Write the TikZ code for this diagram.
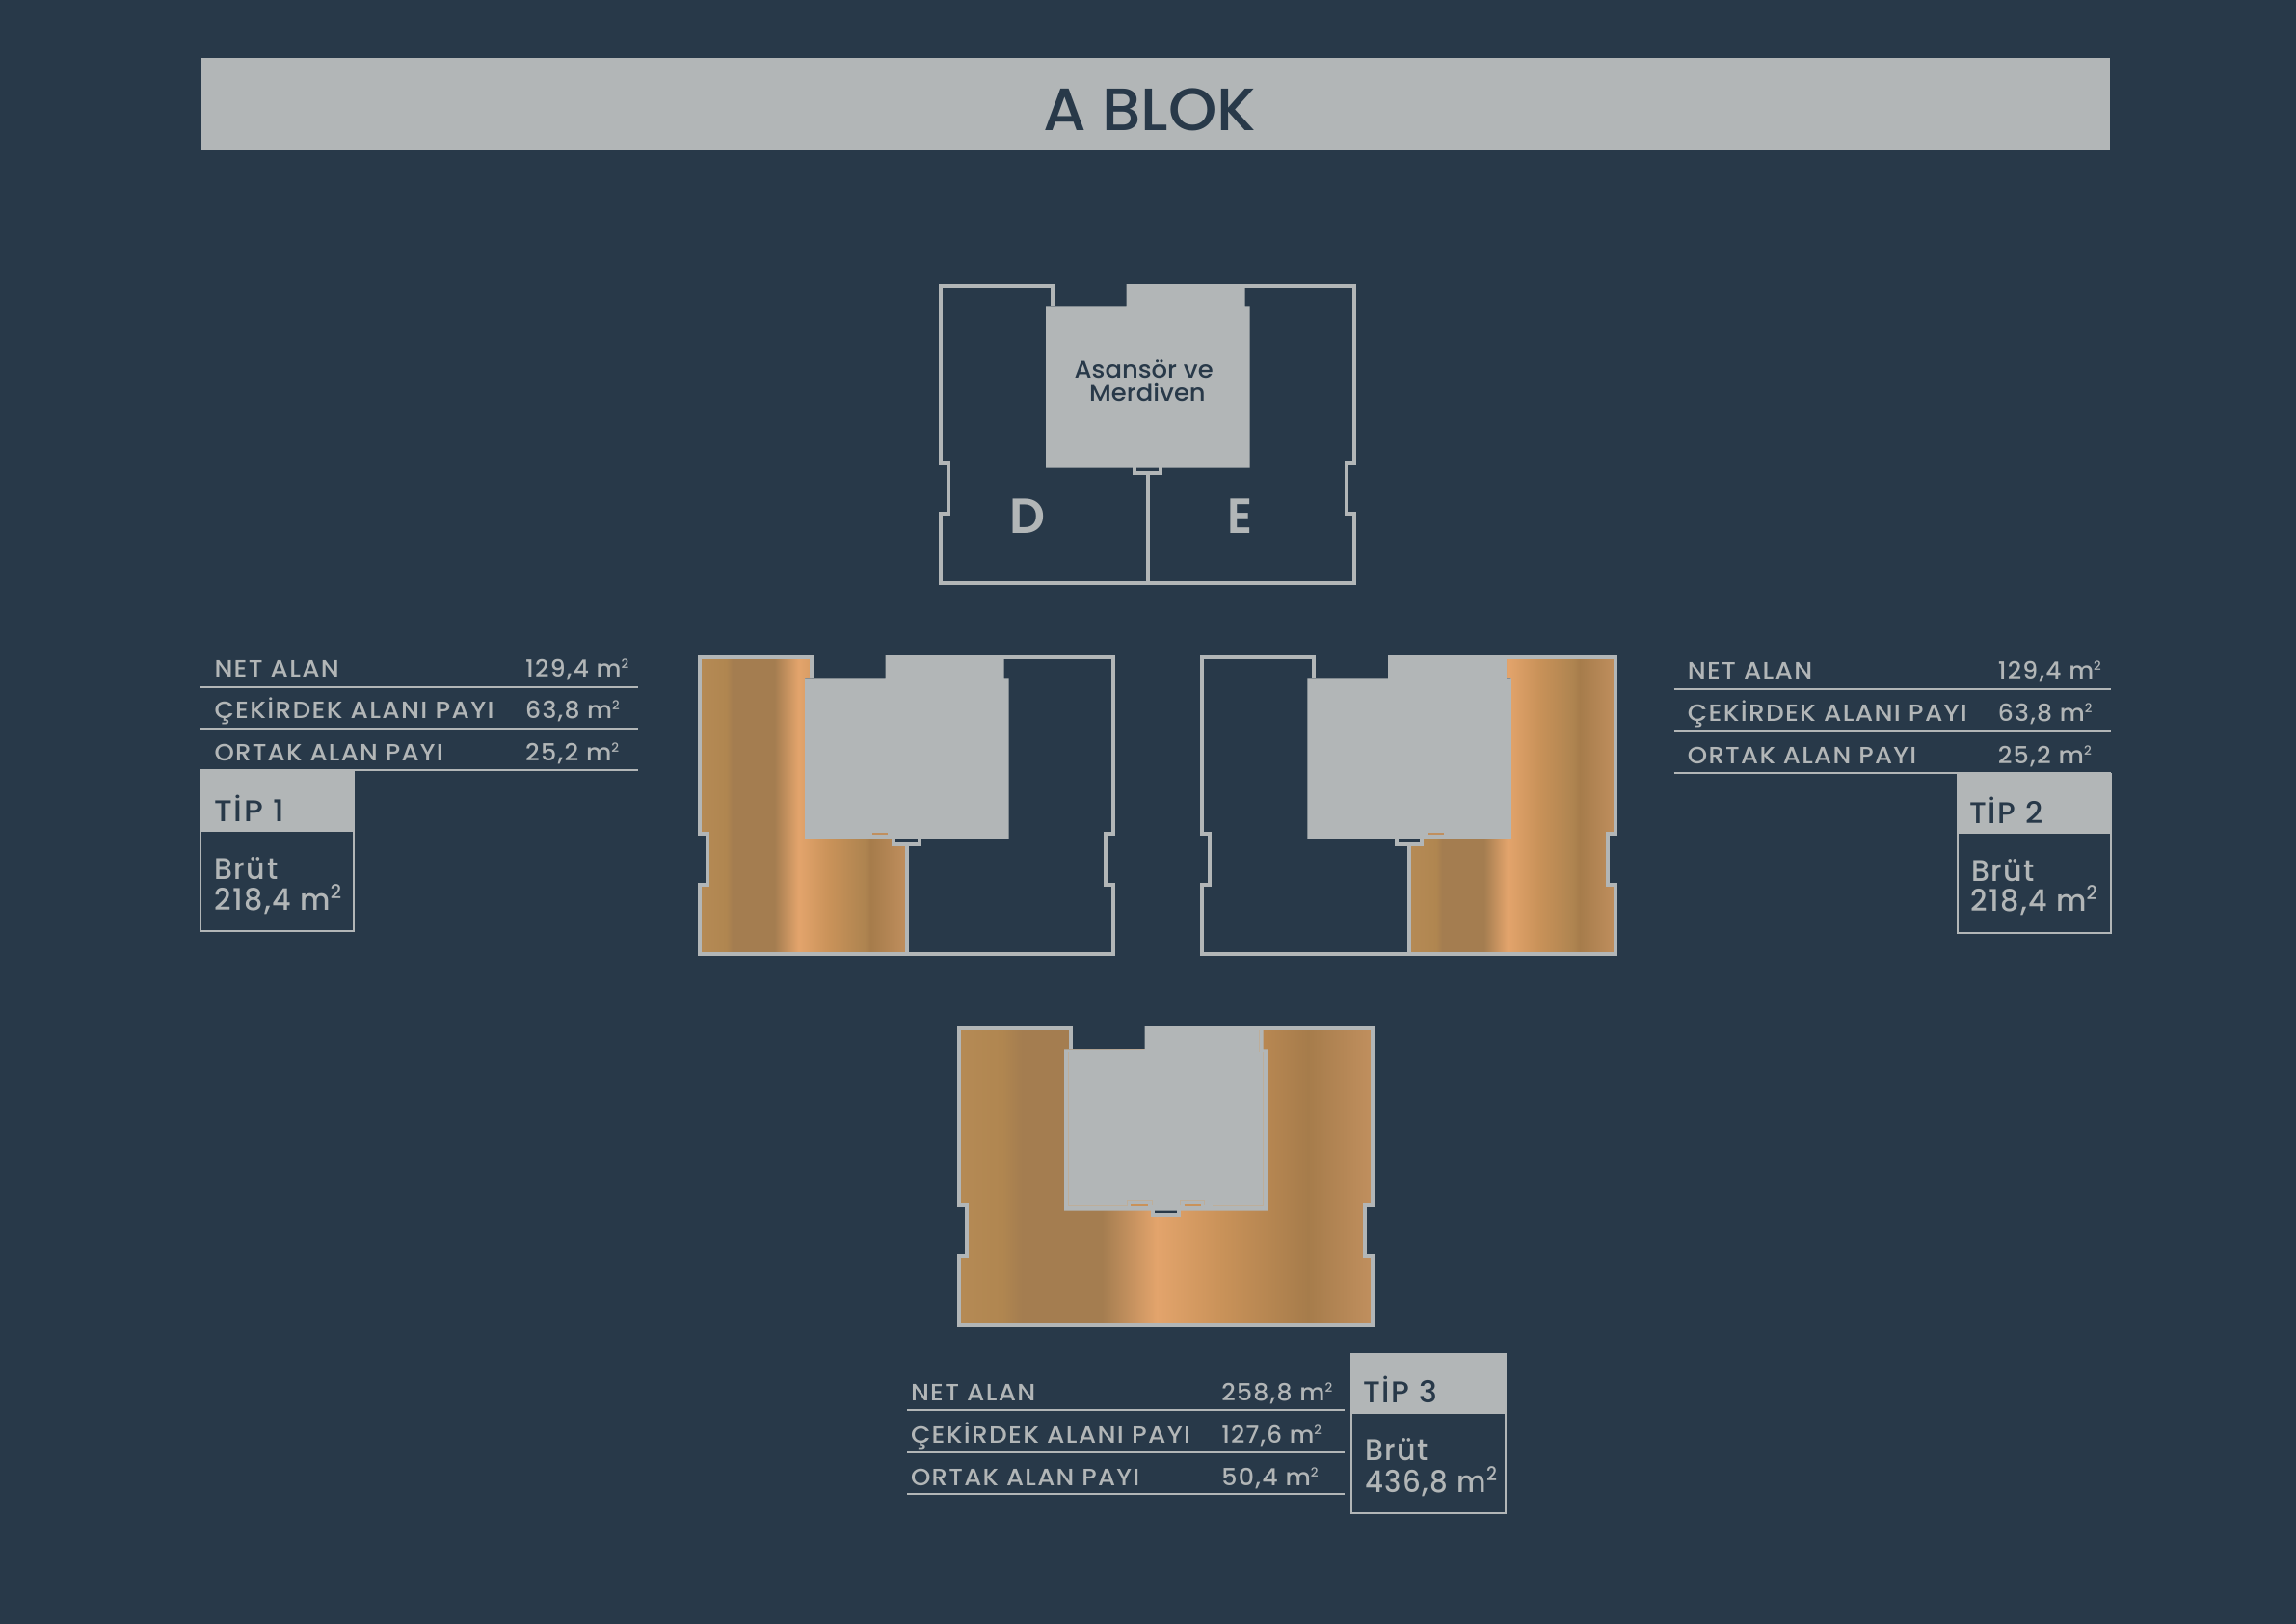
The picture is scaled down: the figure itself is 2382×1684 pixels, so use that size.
\documentclass[tikz,border=0pt]{standalone}
\usepackage{fontspec}
\usepackage{graphicx}
\setmainfont{Poppins}
\newfontfamily\spaced[LetterSpace=5]{Poppins Medium}
\newfontfamily\medfont{Poppins Medium}
\newfontfamily\heavyfont{Poppins SemiBold}
\definecolor{bgdark}{HTML}{283949}
\definecolor{pale}{HTML}{B2B6B7}
\definecolor{gA}{HTML}{B58A55}
\definecolor{gB}{HTML}{B08650}
\definecolor{gC}{HTML}{A47D50}
\definecolor{gD}{HTML}{E3A46C}
\definecolor{gE}{HTML}{C99259}
\definecolor{gF}{HTML}{AE8450}
\definecolor{gG}{HTML}{A67C4B}
\definecolor{gH}{HTML}{C08F5E}
\definecolor{thin}{HTML}{BDAE9A}
\pgfdeclarehorizontalshading{gradone}{100bp}{color(0bp)=(gA); color(25.5bp)=(gA); color(31.4bp)=(gB); color(32.9bp)=(gC); color(43bp)=(gC); color(48.8bp)=(gD); color(56.2bp)=(gE); color(64.7bp)=(gF); color(66.2bp)=(gG); color(75bp)=(gH); color(100bp)=(gH)}
\pgfdeclarehorizontalshading{gradtwo}{100bp}{color(0bp)=(gA); color(25.2bp)=(gA); color(30.2bp)=(gB); color(32.6bp)=(gC); color(42.3bp)=(gC); color(48.9bp)=(gD); color(56.7bp)=(gE); color(67.2bp)=(gG); color(74.8bp)=(gH); color(100bp)=(gH)}
% name, x, y, width, font size, colour, font switch, text
\newcommand{\fitlabel}[8]{\node[anchor=base west,inner sep=0pt,text=#6] (#1) at (#2,#3) {\resizebox{#4pt}{\height}{\fontsize{#5}{#5}#7\selectfont #8}};}
\newcommand{\rowtext}[5]{\fitlabel{#1}{#2}{#3}{#4}{24.5}{pale}{\spaced}{#5}}
\newcommand{\smallsq}{m\raisebox{9pt}{\fontsize{13}{13}\selectfont 2}}
\newcommand{\bigsq}{m\raisebox{12pt}{\fontsize{20}{20}\selectfont 2}}
\newcommand{\outlinepath}{(1092,318) -- (1092,297) -- (976,297) -- (976,480) -- (984,480) -- (984,533) -- (976,533) -- (976,605) -- (1405,605) -- (1405,533) -- (1397,533) -- (1397,480) -- (1405,480) -- (1405,297) -- (1291,297)}
\newcommand{\plancore}{%
  \draw[wall,fill=bgdark] (1177.3,484) -- (1177.3,491) -- (1204,491) -- (1204,484);
  \fill[pale] (1085,318.3) -- (1168.7,318.3) -- (1168.7,295) -- (1291.5,295) -- (1291.5,318.3) -- (1296.5,318.3) -- (1296.5,485.7) -- (1085,485.7) -- cycle;
  \draw[wall] \outlinepath;
}
\newcommand{\divider}{\draw[wall] (1191,491) -- (1191,605);}
\tikzset{
  wall/.style={draw=pale,line width=4pt,line join=miter},
  rulewire/.style={draw=pale,line width=1.7pt},
  tipframe/.style={draw=pale,line width=2pt},
  tandash/.style={draw=gH,line width=1.2pt}
}
\begin{document}
\begin{tikzpicture}[x=1pt,y=-1pt]
\useasboundingbox (0,0) rectangle (2382,1684);
\fill[bgdark] (-5,-5) rectangle (2390,1690);
% title
\fill[pale] (209.3,60.3) rectangle (2188.7,155.7);
\fitlabel{title}{1082}{135}{221}{62}{bgdark}{\medfont}{A BLOK}
% plan D/E
\plancore
\divider
\fitlabel{core1}{1114.5}{392}{144}{25}{bgdark}{\medfont}{Asansör ve}
\fitlabel{core2}{1130}{416}{120.5}{25}{bgdark}{\medfont}{Merdiven}
\fitlabel{aptD}{1047.5}{553}{37}{51}{pale}{\heavyfont}{D}
\fitlabel{aptE}{1273.3}{553}{26}{51}{pale}{\heavyfont}{E}
% plan type 1
\begin{scope}[shift={(-250,385)}]
\shade[shading=gradone] (976,297) -- (1092,297) -- (1092,318) -- (1085,318) -- (1085,485.7) -- (1191,485.7) -- (1191,605) -- (976,605) -- (976,533) -- (984,533) -- (984,480) -- (976,480) -- cycle;
\plancore
\divider
\draw[tandash] (1155,480) -- (1171,480);
\end{scope}
% plan type 2
\begin{scope}[shift={(271.3,385)}]
\shade[shading=gradone] (1291,297) -- (1405,297) -- (1405,480) -- (1397,480) -- (1397,533) -- (1405,533) -- (1405,605) -- (1191,605) -- (1191,485.7) -- (1296,485.7) -- (1296,318) -- (1291,318) -- cycle;
\plancore
\divider
\draw[tandash] (1210,480) -- (1226.4,480);
\end{scope}
% plan type 3
\begin{scope}[shift={(19,770)}]
\shade[shading=gradtwo] (976,297) -- (1092,297) -- (1092,318) -- (1291,318) -- (1291,297) -- (1405,297) -- (1405,480) -- (1397,480) -- (1397,533) -- (1405,533) -- (1405,605) -- (976,605) -- (976,533) -- (984,533) -- (984,480) -- (976,480) -- cycle;
\plancore
\draw[draw=thin,line width=0.8pt] (1089.3,321.7) -- (1089.3,480.3) -- (1150.3,480.3) -- (1150.3,475.3) -- (1176,475.3) -- (1176,480.3);
\draw[draw=thin,line width=0.8pt] (1205.3,480.3) -- (1205.3,475.3) -- (1230.3,475.3) -- (1230.3,480.3);
\draw[draw=thin,line width=0.8pt] (1239.3,480.3) -- (1291.7,480.3) -- (1291.7,321.7) -- (1287.3,321.7) -- (1287.3,299);
\draw[draw=gE,line width=2pt] (1154,480) -- (1172,480);
\draw[draw=gE,line width=2pt] (1209.7,480) -- (1226.7,480);
\end{scope}
% table type 1
\draw[rulewire] (208.3,712.7) -- (661.7,712.7);
\draw[rulewire] (208.3,756) -- (661.7,756);
\draw[rulewire] (208.3,799.3) -- (661.7,799.3);
\fill[pale] (207.3,799.3) rectangle (368.3,863);
\draw[tipframe] (208.3,863) -- (208.3,966) -- (367.3,966) -- (367.3,863);
\rowtext{a1}{222.3}{702}{129.3}{NET ALAN}
\rowtext{a2}{222.3}{745.3}{290}{ÇEKİRDEK ALANI PAYI}
\rowtext{a3}{222.3}{789.6}{237.3}{ORTAK ALAN PAYI}
\rowtext{av1}{545}{702}{107}{129,4 \smallsq}
\rowtext{av2}{545}{745.3}{97.7}{63,8 \smallsq}
\rowtext{av3}{545}{789.6}{97}{25,2 \smallsq}
\fitlabel{at}{222.3}{852}{72.7}{31}{bgdark}{\spaced}{TİP 1}
\fitlabel{ab1}{222.3}{912}{65.7}{31}{pale}{\spaced}{Brüt}
\fitlabel{ab2}{222.3}{944}{131.7}{31}{pale}{\spaced}{218,4 \bigsq}
% table type 2
\draw[rulewire] (1736.7,714.7) -- (2190,714.7);
\draw[rulewire] (1736.7,758.3) -- (2190,758.3);
\draw[rulewire] (1736.7,801.7) -- (2190,801.7);
\fill[pale] (2030,801.7) rectangle (2190.7,865);
\draw[tipframe] (2031,865) -- (2031,968.3) -- (2189.7,968.3) -- (2189.7,865);
\rowtext{b1}{1750.7}{704.6}{129.3}{NET ALAN}
\rowtext{b2}{1750.7}{748.6}{290}{ÇEKİRDEK ALANI PAYI}
\rowtext{b3}{1750.7}{792}{237.3}{ORTAK ALAN PAYI}
\rowtext{bv1}{2072.6}{704.6}{107}{129,4 \smallsq}
\rowtext{bv2}{2072.6}{748.6}{97.7}{63,8 \smallsq}
\rowtext{bv3}{2072.6}{792}{97}{25,2 \smallsq}
\fitlabel{bt}{2043}{854}{76}{31}{bgdark}{\spaced}{TİP 2}
\fitlabel{bb1}{2045}{914}{65.7}{31}{pale}{\spaced}{Brüt}
\fitlabel{bb2}{2044}{945.6}{131.7}{31}{pale}{\spaced}{218,4 \bigsq}
% table type 3
\draw[rulewire] (941.2,1463.3) -- (1394.8,1463.3);
\draw[rulewire] (941.2,1507) -- (1394.8,1507);
\draw[rulewire] (941.2,1550.3) -- (1394.8,1550.3);
\fill[pale] (1401.4,1404.3) rectangle (1562.7,1467);
\draw[tipframe] (1402.4,1467) -- (1402.4,1570.3) -- (1561.7,1570.3) -- (1561.7,1467);
\rowtext{c1}{944.8}{1453}{129.3}{NET ALAN}
\rowtext{c2}{944.8}{1497}{290}{ÇEKİRDEK ALANI PAYI}
\rowtext{c3}{944.8}{1541}{237.3}{ORTAK ALAN PAYI}
\rowtext{cv1}{1267.2}{1453}{114.8}{258,8 \smallsq}
\rowtext{cv2}{1267.2}{1497}{103.6}{127,6 \smallsq}
\rowtext{cv3}{1267.2}{1541}{100.3}{50,4 \smallsq}
\fitlabel{ct}{1414}{1455.6}{76.7}{31}{bgdark}{\spaced}{TİP 3}
\fitlabel{cb1}{1416}{1515.6}{65.7}{31}{pale}{\spaced}{Brüt}
\fitlabel{cb2}{1416}{1548}{136.8}{31}{pale}{\spaced}{436,8 \bigsq}
\end{tikzpicture}
\end{document}
